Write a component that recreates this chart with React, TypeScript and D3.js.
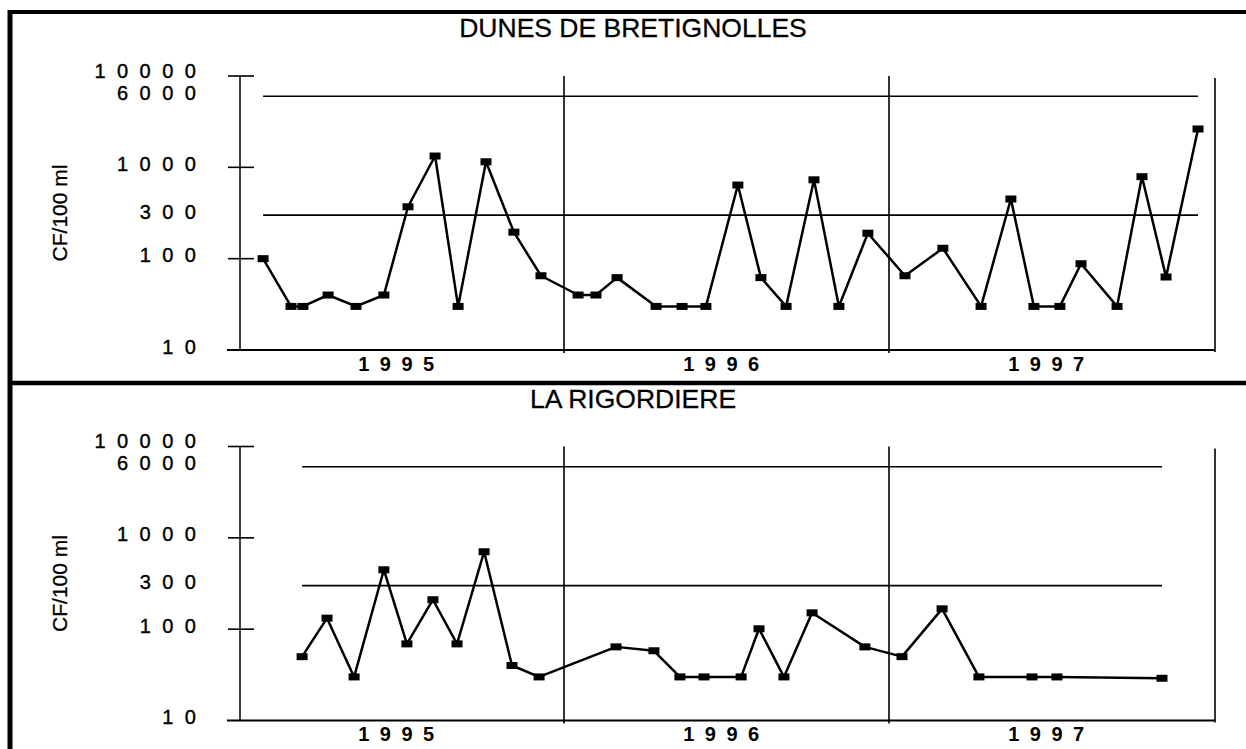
import React from "react";
import * as d3 from "d3";

// ---- data (months since 1 Jan 1995) ----
const topTitle = "DUNES DE BRETIGNOLLES";
const topMonths = [0.89, 1.92, 2.36, 3.29, 4.32, 5.35, 6.24, 7.24, 8.09, 9.12, 10.15, 11.15, 12.52, 13.18, 13.96, 15.4, 16.36, 17.24, 18.42, 19.27, 20.2, 21.23, 22.15, 23.22, 24.59, 25.99, 27.4, 28.5, 29.35, 30.31, 31.09, 32.42, 33.34, 34.23, 35.41];
const topValues = [100, 30, 30, 40, 30, 40, 370, 1330, 30, 1150, 195, 65, 40, 40, 62, 30, 30, 30, 640, 62, 30, 730, 30, 190, 65, 130, 30, 450, 30, 30, 88, 30, 790, 63, 2630];

const bottomTitle = "LA RIGORDIERE";
const bottomMonths = [2.33, 3.25, 4.25, 5.35, 6.2, 7.16, 8.05, 9.05, 10.08, 11.08, 13.92, 15.32, 16.28, 17.17, 18.54, 19.2, 20.12, 21.16, 23.11, 24.48, 25.96, 27.32, 29.28, 30.2, 34.08];
const bottomValues = [50, 132, 30, 447, 69, 210, 69, 704, 40, 30, 64, 58, 30, 30, 30, 101, 30, 151, 64, 50, 167, 30, 30, 30, 29];

const years = ["1995", "1996", "1997"];
const yearStarts = [0, 12, 24, 36];
const tickValues = [10, 100, 300, 1000, 6000, 10000];
const tickMarks = [100, 1000, 10000];
const thresholds = [6000, 300];
const yTitle = "CF/100 ml";

const FONT = "'Liberation Sans', Arial, Helvetica, sans-serif";

type PanelProps = { title: string; months: number[]; values: number[]; top: number };

function Panel({ title, months, values, top }: PanelProps) {
  const x = d3.scaleLinear().domain([0, 36]).range([239, 1214]);
  const y = d3.scaleLog().domain([10, 10000]).range([top + 350, top + 76]);
  const pts = months.map((m, i) => [x(m), y(values[i])] as [number, number]);
  const line = d3.line<[number, number]>()(pts) || "";
  const x0 = x(d3.min(months) as number);
  const x1 = x(d3.max(months) as number);
  const yTop = y(10000);
  const yBot = y(10);
  const ls = 11.5;
  const yls = 10.5;
  return (
    <g>
      <text x={633} y={top + 37} textAnchor="middle" fontFamily={FONT} fontSize={26.5} stroke="#000" strokeWidth={0.3}>{title}</text>
      <text transform={`translate(67,${(yTop + yBot) / 2}) rotate(-90)`} textAnchor="middle" fontFamily={FONT} fontSize={21} stroke="#000" strokeWidth={0.3}>{yTitle}</text>
      {tickValues.map((t) => (
        <text key={t} x={196 + ls} y={y(t) + (t === 10000 ? 1.5 : 3.5)} textAnchor="end" fontFamily={FONT} fontSize={20} letterSpacing={ls} stroke="#000" strokeWidth={0.4}>{String(t)}</text>
      ))}
      {/* y axis */}
      <line x1={240} x2={240} y1={yTop} y2={yBot} stroke="#000" strokeWidth={1.5} />
      {tickMarks.map((t) => (
        <line key={t} x1={228} x2={254} y1={y(t)} y2={y(t)} stroke="#000" strokeWidth={1.6} />
      ))}
      {/* x axis */}
      <line x1={227} x2={x(36) + 1} y1={yBot} y2={yBot} stroke="#000" strokeWidth={2} />
      <line x1={x(36) + 1} x2={x(36) + 1} y1={yTop + 2} y2={yBot + 2} stroke="#000" strokeWidth={1.6} />
      {yearStarts.slice(1, 3).map((m) => (
        <line key={m} x1={x(m)} x2={x(m)} y1={yTop} y2={yBot + 3} stroke="#000" strokeWidth={1.6} />
      ))}
      {years.map((yr, i) => (
        <text key={yr} x={x((yearStarts[i] + yearStarts[i + 1]) / 2)} y={yBot + 20.5} textAnchor="middle" fontFamily={FONT} fontSize={20} fontWeight="bold" letterSpacing={yls}>{yr}</text>
      ))}
      {/* thresholds */}
      {thresholds.map((t) => (
        <line key={t} x1={x0} x2={x1} y1={y(t)} y2={y(t)} stroke="#000" strokeWidth={1.6} />
      ))}
      {/* series */}
      <path d={line} fill="none" stroke="#000" strokeWidth={2.5} strokeLinejoin="round" />
      {pts.map(([px, py], i) => (
        <rect key={i} x={px - 5.5} y={py - 3.5} width={11} height={7} fill="#000" />
      ))}
    </g>
  );
}

export default function App() {
  return (
    <svg width={1246} height={749} style={{ position: "absolute", left: 0, top: 0, background: "#fff" }}>
      <rect x={0} y={0} width={1246} height={749} fill="#fff" />
      <Panel title={topTitle} months={topMonths} values={topValues} top={0} />
      <Panel title={bottomTitle} months={bottomMonths} values={bottomValues} top={370.5} />
      {/* frame */}
      <line x1={8} x2={1246} y1={12} y2={12} stroke="#000" strokeWidth={4} />
      <line x1={8} x2={1246} y1={383} y2={383} stroke="#000" strokeWidth={4.5} />
      <line x1={10} x2={10} y1={10} y2={749} stroke="#000" strokeWidth={5} />
    </svg>
  );
}
